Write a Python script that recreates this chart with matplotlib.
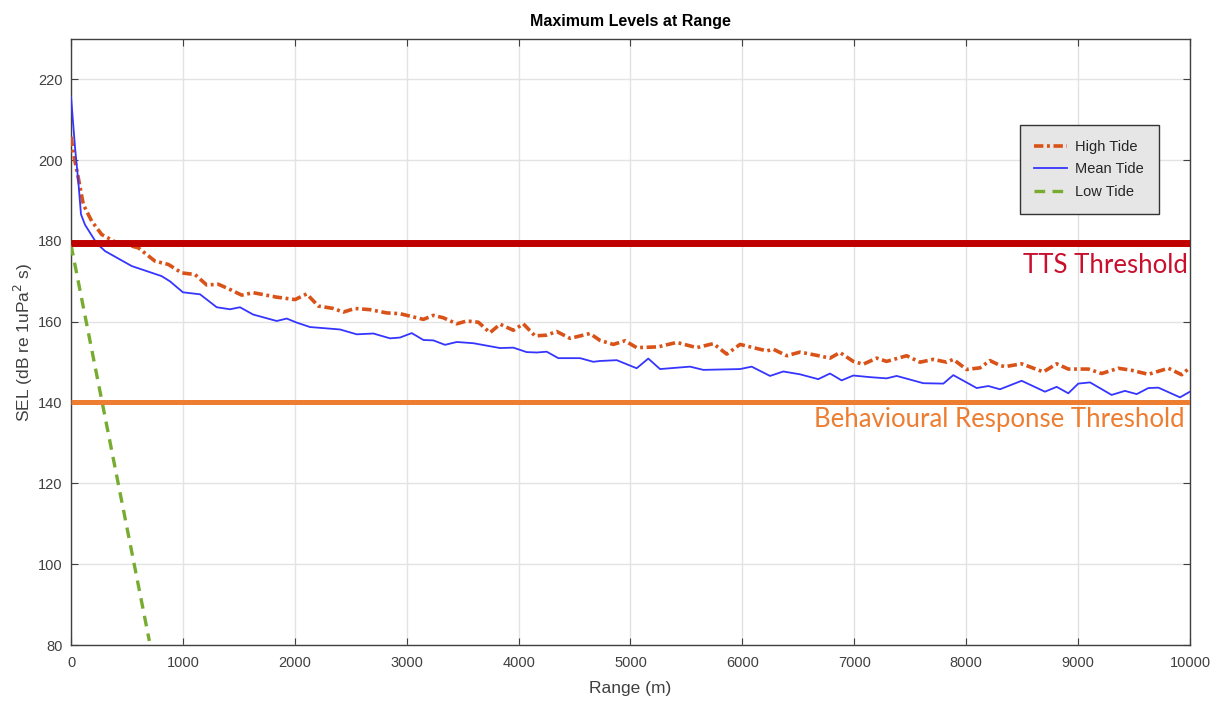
import matplotlib
matplotlib.use("Agg")
import matplotlib.pyplot as plt

plt.rcParams["font.family"] = ["Liberation Sans", "DejaVu Sans"]

# ── Data ────────────────────────────────────────────────────────────────────
high_range = [0, 21, 65, 110, 185, 274, 393, 601, 751, 870, 989, 1108, 1213,
              1316, 1421, 1525, 1629, 1838, 2002, 2106, 2210, 2344, 2433, 2538,
              2672, 2821, 2940, 3030, 3149, 3238, 3327, 3447, 3536, 3640, 3744,
              3834, 3953, 4042, 4147, 4251, 4340, 4460, 4638, 4727, 4846, 4951,
              5055, 5249, 5413, 5592, 5741, 5860, 5979, 6217, 6277, 6396, 6515,
              6664, 6783, 6872, 6991, 7080, 7200, 7289, 7468, 7587, 7706, 7826,
              7885, 8004, 8123, 8213, 8302, 8347, 8496, 8690, 8809, 8913, 9092,
              9211, 9360, 9479, 9628, 9807, 9926, 10000]
high_sel = [205.8, 201.7, 195.6, 189.0, 184.9, 181.6, 179.8, 178.3, 175.0, 174.2,
            172.1, 171.7, 169.1, 169.3, 168.0, 166.6, 167.2, 166.1, 165.5, 166.9,
            163.9, 163.3, 162.4, 163.3, 163.0, 162.2, 162.0, 161.4, 160.6, 161.6,
            161.0, 159.5, 160.2, 159.9, 157.3, 159.4, 157.9, 159.5, 156.5, 156.7,
            157.6, 155.9, 157.1, 155.4, 154.4, 155.3, 153.6, 153.8, 154.9, 153.6,
            154.6, 152.0, 154.4, 152.8, 153.2, 151.6, 152.5, 151.7, 151.0, 152.4,
            150.2, 149.5, 151.0, 150.2, 151.6, 150.0, 150.7, 150.0, 150.7, 148.2,
            148.6, 150.4, 149.2, 148.9, 149.6, 147.6, 149.6, 148.3, 148.3, 147.2,
            148.5, 148.0, 147.0, 148.5, 146.9, 148.7]

mean_range = [0, 36, 65, 89, 125, 230, 304, 542, 810, 885, 1000, 1153, 1302,
              1421, 1510, 1627, 1838, 1928, 2017, 2136, 2404, 2553, 2702, 2851,
              2940, 3045, 3149, 3238, 3342, 3447, 3595, 3834, 3953, 4072, 4162,
              4251, 4355, 4549, 4668, 4727, 4877, 5055, 5159, 5264, 5532, 5651,
              5979, 6083, 6247, 6366, 6515, 6678, 6783, 6887, 6991, 7140, 7289,
              7379, 7617, 7796, 7885, 8094, 8198, 8302, 8496, 8704, 8809, 8913,
              9002, 9107, 9300, 9419, 9524, 9628, 9718, 9911, 10000]
mean_sel = [215.7, 203.0, 194.7, 186.6, 184.0, 179.4, 177.5, 173.8, 171.3, 170.0,
            167.3, 166.8, 163.6, 163.1, 163.6, 161.8, 160.2, 160.8, 159.8, 158.7,
            158.1, 156.9, 157.1, 155.9, 156.1, 157.2, 155.5, 155.4, 154.3, 155.0,
            154.7, 153.5, 153.6, 152.5, 152.4, 152.6, 151.0, 151.0, 150.1, 150.3,
            150.5, 148.5, 150.9, 148.3, 148.9, 148.1, 148.3, 148.9, 146.6, 147.7,
            147.0, 145.8, 147.2, 145.5, 146.7, 146.3, 146.0, 146.6, 144.8, 144.7,
            146.8, 143.6, 144.1, 143.3, 145.4, 142.7, 143.9, 142.3, 144.7, 145.0,
            141.9, 142.9, 142.1, 143.6, 143.7, 141.3, 142.7]

low_range = [0, 700]
low_sel = [179.0, 81.0]

tts_level = 179.4
behav_level = 140.1

# ── Figure ──────────────────────────────────────────────────────────────────
fig = plt.figure(figsize=(12.27, 7.05), dpi=100)
ax = fig.add_axes([0.0579, 0.0851, 0.9119, 0.8596])

ax.plot(high_range, high_sel, color="#D95319", linewidth=2.6,
        linestyle=(0, (2.6, 1.0, 0.8, 1.0)), label="High Tide", zorder=3)
ax.plot(mean_range, mean_sel, color="#3535FF", linewidth=1.3,
        label="Mean Tide", zorder=3)
ax.plot(low_range, low_sel, color="#77AC30", linewidth=2.4,
        linestyle=(0, (3.2, 2.2)), label="Low Tide", zorder=3)

# threshold lines (drawn over the curves, as in the source)
ax.plot([0, 10000], [tts_level, tts_level], color="#C00000", linewidth=5,
        solid_capstyle="butt", zorder=4)
ax.plot([0, 10000], [behav_level, behav_level], color="#ED7D31", linewidth=3.6,
        solid_capstyle="butt", zorder=4)

ax.text(9980, 173.9, "TTS Threshold", color="#C8102E", fontsize=18.5,
        family="Lato", ha="right", va="center")
ax.text(9955, 135.9, "Behavioural Response Threshold", color="#ED7D31",
        fontsize=18.5, family="Lato", ha="right", va="center")

ax.set_xlim(0, 10000)
ax.set_ylim(80, 230)
ax.set_xticks(range(0, 10001, 1000))
ax.set_yticks(range(80, 221, 20))
ax.grid(True, color="#E3E3E3", linewidth=1)
ax.set_axisbelow(True)
ax.tick_params(direction="in", top=True, right=True, length=5,
               colors="#404040", labelsize=10.5, labelcolor="#404040")
ax.tick_params(axis="x", pad=8)
ax.tick_params(axis="y", pad=6)
for sp in ax.spines.values():
    sp.set_color("#404040")
    sp.set_linewidth(1)

ax.set_title("Maximum Levels at Range", fontsize=11.5, fontweight="bold",
             pad=9)
ax.set_xlabel("Range (m)", fontsize=12.5, color="#404040", labelpad=8)
ax.set_ylabel("SEL (dB re 1uPa$^2$ s)", fontsize=12.5, color="#404040",
              labelpad=2)

leg = ax.legend(loc="upper left", bbox_to_anchor=(0.848, 0.858),
                borderaxespad=0, fontsize=10.5, frameon=True, fancybox=False,
                handlelength=2.2, handletextpad=0.6, borderpad=1.0,
                labelspacing=0.6)
leg.get_frame().set_facecolor("#E6E6E6")
leg.get_frame().set_edgecolor("#333333")
leg.get_frame().set_alpha(1)
for t in leg.get_texts():
    t.set_color("#262626")

fig.savefig("out.png", dpi=100)
